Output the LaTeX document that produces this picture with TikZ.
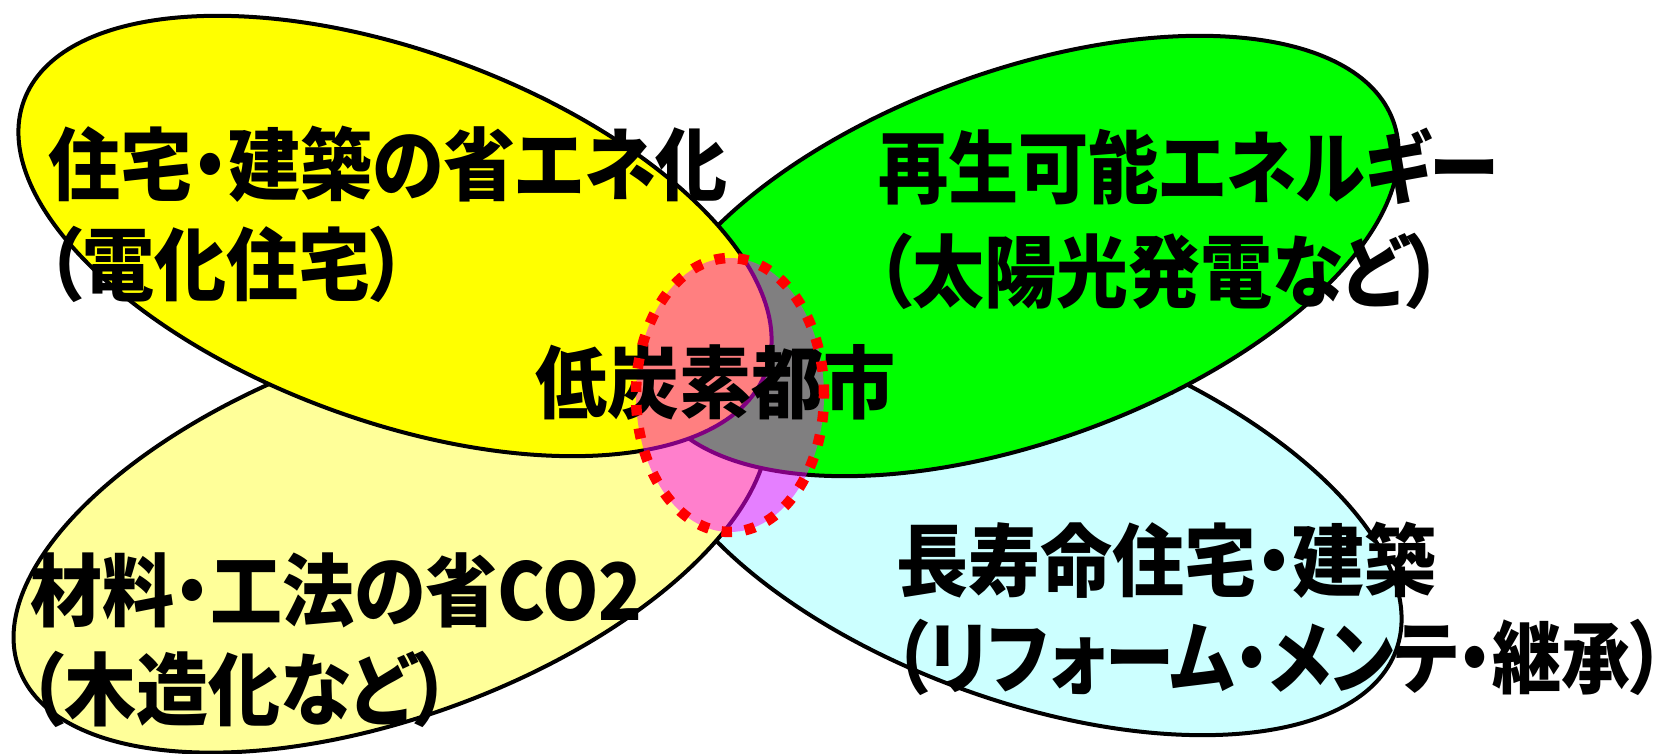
\documentclass[tikz,border=0pt]{standalone}
\usepackage{fontspec}
\newfontfamily\jpfont{Noto Sans CJK JP}[RawFeature=+palt]
\definecolor{ulcol}{RGB}{255,255,0}
\definecolor{urcol}{RGB}{0,255,0}
\definecolor{llcol}{RGB}{255,255,153}
\definecolor{lrcol}{RGB}{204,255,255}
\definecolor{hubcol}{RGB}{255,0,255}
\definecolor{dotcol}{RGB}{255,0,0}
\begin{document}
\begin{tikzpicture}[x=1pt,y=1pt,
  petal/.style={draw=black, line width=4pt},
  lbl/.style={anchor=base west, inner sep=0pt, yscale=1.1,
    font={\jpfont\bfseries\fontsize{72pt}{86pt}\selectfont}},
  hub/.style={fill=hubcol, fill opacity=0.5},
  hubline/.style={draw=dotcol, line width=10.5pt, dash pattern=on 10.5pt off 13pt}]
\useasboundingbox (0,0) rectangle (1665,754);
\fill[white] (0,0) rectangle (1665,754);
% petals
\draw[petal, fill=lrcol, rotate around={-20:(1025,239)}] (1025,239) ellipse [x radius=395pt, y radius=185pt];
\draw[petal, fill=llcol, rotate around={20:(391,221)}] (391,221) ellipse [x radius=396pt, y radius=184pt];
\draw[petal, fill=urcol, rotate around={20:(1022,498)}] (1022,498) ellipse [x radius=395pt, y radius=185pt];
\draw[petal, fill=ulcol, rotate around={-20:(395,518)}] (395,518) ellipse [x radius=395pt, y radius=185pt];
% hub
\fill[hub] (730,359) ellipse [x radius=94pt, y radius=137pt];
% labels
\node[lbl] (t1a) at (48,559) {住宅・建築の省エネ化};
\node[lbl] (t1b) at (46,459) {（電化住宅）};
\node[lbl, xscale=0.975] (t2a) at (878,556) {再生可能エネルギー};
\node[lbl] (t2b) at (876,452) {（太陽光発電など）};
\node[lbl] (t0) at (535,341) {低炭素都市};
\node[lbl] (t3a) at (30,133) {材料・工法の省CO2};
\node[lbl] (t3b) at (28,34) {（木造化など）};
\node[lbl] (t4a) at (896,163) {長寿命住宅・建築};
\node[lbl, xscale=0.96] (t4b) at (894,66) {（リフォーム・メンテ・継承）};
% hub border
\draw[hubline] (730,359) ellipse [x radius=94pt, y radius=137pt];
\end{tikzpicture}
\end{document}
